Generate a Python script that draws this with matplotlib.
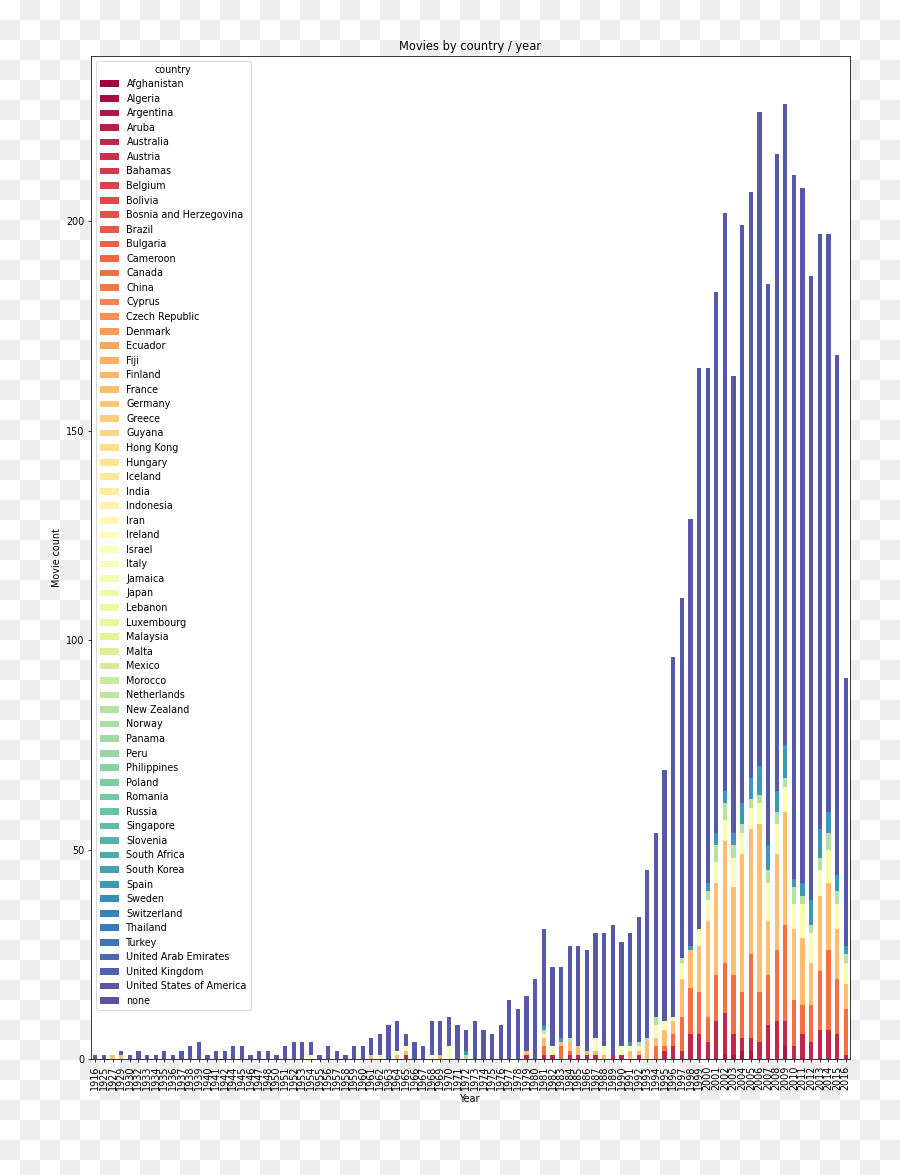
import numpy as np
import pandas as pd
import matplotlib
matplotlib.use('Agg')
import matplotlib.pyplot as plt

# DATA
countries = ['Afghanistan', 'Algeria', 'Argentina', 'Aruba', 'Australia', 'Austria',
             'Bahamas', 'Belgium', 'Bolivia', 'Bosnia and Herzegovina', 'Brazil',
             'Bulgaria', 'Cameroon', 'Canada', 'China', 'Cyprus', 'Czech Republic',
             'Denmark', 'Ecuador', 'Fiji', 'Finland', 'France', 'Germany', 'Greece',
             'Guyana', 'Hong Kong', 'Hungary', 'Iceland', 'India', 'Indonesia', 'Iran',
             'Ireland', 'Israel', 'Italy', 'Jamaica', 'Japan', 'Lebanon', 'Luxembourg',
             'Malaysia', 'Malta', 'Mexico', 'Morocco', 'Netherlands', 'New Zealand',
             'Norway', 'Panama', 'Peru', 'Philippines', 'Poland', 'Romania', 'Russia',
             'Singapore', 'Slovenia', 'South Africa', 'South Korea', 'Spain', 'Sweden',
             'Switzerland', 'Thailand', 'Turkey', 'United Arab Emirates',
             'United Kingdom', 'United States of America', 'none']

years = [1916, 1925, 1927, 1929, 1930,
         1932, 1933, 1934, 1935, 1936, 1937, 1938, 1939, 1940, 1941, 1942,
         1944, 1945, 1946, 1947, 1948,
         1950, 1951, 1952, 1953, 1954, 1955, 1956, 1957, 1958, 1959,
         1960, 1961, 1962, 1963, 1964, 1965, 1966, 1967, 1968, 1969,
         1970, 1971, 1972, 1973, 1974, 1975, 1976, 1977, 1978, 1979,
         1980, 1981, 1982, 1983, 1984, 1985, 1986, 1987, 1988, 1989,
         1990, 1991, 1992, 1993, 1994, 1995, 1996, 1997, 1998, 1999,
         2000, 2001, 2002, 2003, 2004, 2005, 2006, 2007, 2008, 2009,
         2010, 2011, 2012, 2013, 2014, 2015, 2016]

# 1916-1948 (21 bars) are all zero for these countries unless listed
usa = [1, 1, 0, 1, 1,
       2, 1, 1, 2, 1, 2, 3, 4, 1, 2, 2,
       3, 3, 1, 2, 2,
       1, 3, 4, 4, 3, 1, 3, 2, 1, 3,
       3, 4, 5, 8, 7, 3, 4, 3, 8, 8,
       7, 8, 5, 9, 7, 6, 8, 14, 12, 13,
       19, 23, 19, 17, 22, 24, 24, 25, 27, 31,
       25, 26, 30, 40, 44, 60, 86, 86, 102, 134,
       123, 129, 138, 109, 138, 140, 156, 134, 152, 153,
       168, 166, 149, 142, 138, 124, 64]

france = [0, 0, 1, 1, 0] + [0] * 16 + \
    [0, 0, 0, 0, 0, 0, 0, 0, 0, 0,
     0, 1, 0, 0, 1, 1, 0, 0, 0, 1,
     0, 0, 0, 0, 0, 0, 0, 0, 0, 1,
     0, 2, 0, 1, 2, 2, 1, 1, 1, 0,
     0, 2, 1, 4, 2, 4, 3, 9, 9, 11,
     23, 22, 29, 21, 33, 30, 40, 13, 23, 27,
     17, 16, 10, 18, 16, 12, 6]

italy = [0] * 21 + \
    [0, 0, 0, 0, 1, 0, 0, 0, 0, 0,
     0, 0, 1, 0, 1, 1, 0, 0, 1, 0,
     3, 0, 0, 0, 0, 0, 0, 0, 0, 0,
     0, 1, 2, 0, 0, 0, 0, 3, 2, 0,
     2, 1, 1, 0, 3, 2, 1, 4, 0, 4,
     5, 5, 5, 7, 5, 5, 5, 9, 7, 6,
     6, 8, 7, 6, 8, 6, 5]

australia = [0] * 21 + \
    [0, 0, 0, 0, 0, 0, 0, 0, 0, 0,
     0, 0, 0, 0, 0, 1, 0, 0, 0, 0,
     0, 0, 0, 0, 0, 0, 0, 0, 0, 1,
     0, 1, 1, 0, 1, 1, 1, 1, 0, 1,
     1, 0, 1, 0, 0, 2, 3, 2, 6, 6,
     4, 9, 10, 5, 3, 3, 4, 8, 9, 6,
     3, 6, 4, 7, 7, 6, 1]

argentina = [0] * 71 + \
    [0, 0, 1, 1, 2, 2, 0, 0, 0, 3,
     0, 0, 0, 0, 0, 0, 0]

canada = [0] * 51 + \
    [0, 2, 0, 3, 1, 0, 0, 0, 0, 0,
     0, 0, 0, 0, 3, 1, 3, 8, 11, 10,
     6, 11, 12, 14, 11, 20, 12, 12, 17, 23,
     11, 7, 9, 14, 19, 13, 11]

new_zealand = [0] * 41 + \
    [0, 0, 1, 0, 0, 0, 0, 0, 0, 0,
     0, 1, 0, 0, 1, 0, 0, 0, 0, 0,
     0, 0, 1, 1, 2, 0, 0, 1, 0, 0,
     2, 4, 4, 3, 2, 2, 2, 3, 3, 2,
     4, 2, 2, 3, 4, 3, 2]

spain = [0] * 41 + \
    [0, 0, 1, 0, 0, 0, 0, 0, 0, 0,
     0, 1, 0, 1, 0, 0, 0, 0, 0, 0,
     0, 1, 0, 0, 0, 0, 0, 0, 1, 0,
     2, 3, 3, 3, 5, 5, 7, 6, 5, 8,
     2, 3, 6, 7, 5, 4, 2]

df = pd.DataFrame(0, index=years, columns=countries)
df['Argentina'] = argentina
df['Australia'] = australia
df['Canada'] = canada
df['France'] = france
df['Italy'] = italy
df['New Zealand'] = new_zealand
df['Spain'] = spain
df['United States of America'] = usa

W, H, DPI = 900, 1175, 69
fig = plt.figure(figsize=(W / DPI, H / DPI), dpi=DPI)
fig.patch.set_alpha(0)

# transparent-png checkerboard behind the figure
yy, xx = np.mgrid[0:H, 0:W]
chk = np.where(((yy // 20) + (xx // 20)) % 2 == 1, 0.937, 1.0)
fig.figimage(np.dstack([chk, chk, chk]), 0, 0, zorder=-10)

ax = fig.add_axes([91 / W, 1 - 1059 / H, (850 - 91) / W, (1059 - 56) / H])
df.plot(kind='bar', stacked=True, colormap='Spectral', ax=ax)
ax.legend(title='country', loc='upper left', labelspacing=0.475)
ax.set_title('Movies by country / year')
ax.set_xlabel('Year')
ax.set_ylabel('Movie count')

fig.savefig('out.png', dpi=DPI)
